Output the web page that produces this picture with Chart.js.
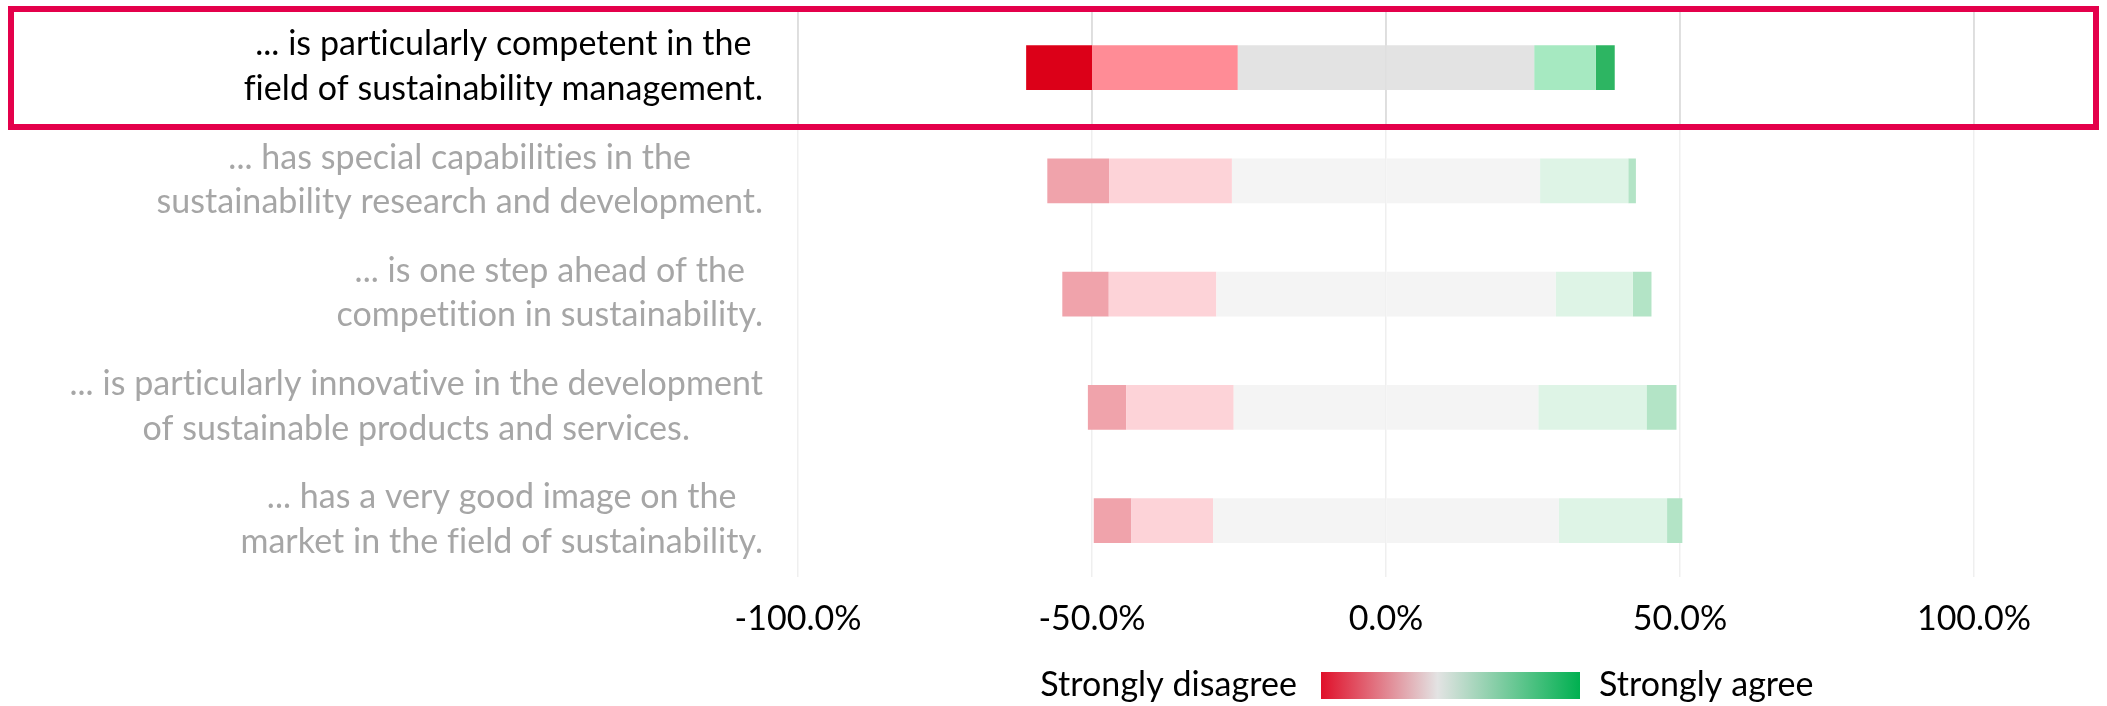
<!DOCTYPE html>
<html>
<head>
<meta charset="utf-8">
<script src="https://cdn.jsdelivr.net/npm/chart.js@4.4.0/dist/chart.umd.min.js"></script>
<style>
  body { margin: 0; background: #fff; }
  #wrap { width: 2107px; height: 706px; }
</style>
</head>
<body>
<div id="wrap"><canvas id="chart" width="2107" height="706"></canvas></div>
<script>
// Data
const statements = [
  ["... is particularly competent in the", "field of sustainability management."],
  ["... has special capabilities in the", "sustainability research and development."],
  ["... is one step ahead of the", "competition in sustainability."],
  ["... is particularly innovative in the development", "of sustainable products and services."],
  ["... has a very good image on the", "market in the field of sustainability."],
];
const stronglyDisagree = [11.2, 10.5, 7.9, 6.5, 6.4];
const disagree = [24.8, 20.9, 18.3, 18.3, 13.9];
const neutral = [50.4, 52.4, 57.7, 51.8, 58.8];
const agree = [10.5, 15.0, 13.1, 18.4, 18.4];
const stronglyAgree = [3.2, 1.3, 3.2, 5.1, 2.6];
const xTicks = [-100, -50, 0, 50, 100];
const highlighted = 0;

const FONT = "Lato, 'Noto Sans', sans-serif";
Chart.defaults.font.family = FONT;

// full colour for the highlighted row, faded for the rest
const rowColors = (full, faded) =>
  statements.map((_, i) => (i === highlighted ? full : faded));

const datasets = [
  { label: "Neutral", data: neutral.map((v) => -v / 2), backgroundColor: rowColors("#E3E3E3", "#F4F4F4") },
  { label: "Disagree", data: disagree.map((v) => -v), backgroundColor: rowColors("#FF8C96", "#FDD3D8") },
  { label: "Strongly disagree", data: stronglyDisagree.map((v) => -v), backgroundColor: rowColors("#DC0018", "#F0A3AB") },
  { label: "Neutral ", data: neutral.map((v) => v / 2), backgroundColor: rowColors("#E3E3E3", "#F4F4F4") },
  { label: "Agree", data: agree, backgroundColor: rowColors("#A6E9C1", "#DEF4E6") },
  { label: "Strongly agree", data: stronglyAgree, backgroundColor: rowColors("#2DB562", "#B3E4C6") },
];
datasets.forEach((d) => {
  d.stack = "s";
  d.borderWidth = 0;
  d.barPercentage = 0.395;
  d.categoryPercentage = 1;
});

const LABEL_SIZE = 34;
const LINE_H = 44.6;

const decor = {
  id: "decor",
  beforeDatasetsDraw(chart) {
    // darker gridlines inside the highlighted band
    const { ctx, chartArea, scales: { x } } = chart;
    ctx.save();
    ctx.strokeStyle = "#D9D9D9";
    ctx.lineWidth = 1.5;
    xTicks.forEach((t) => {
      const px = x.getPixelForValue(t);
      ctx.beginPath();
      ctx.moveTo(px, chartArea.top);
      ctx.lineTo(px, 127);
      ctx.stroke();
    });
    ctx.restore();
  },
  afterDraw(chart) {
    const { ctx, chartArea, scales: { y } } = chart;
    ctx.save();
    // statement labels: block right-aligned, lines centred within block
    ctx.font = `${LABEL_SIZE}px ${FONT}`;
    ctx.letterSpacing = "0.05px"; // no "ti" ligatures
    ctx.textAlign = "center";
    ctx.textBaseline = "middle";
    const right = chartArea.left - 35;
    statements.forEach((lines, i) => {
      const yc = y.getPixelForValue(i);
      const w = Math.max(...lines.map((l) => ctx.measureText(l).width));
      ctx.fillStyle = i === highlighted ? "#000000" : "#A6A6A6";
      lines.forEach((l, j) => {
        ctx.fillText(l, right - w / 2, yc - 1 + (j - (lines.length - 1) / 2) * LINE_H);
      });
    });

    // highlight frame
    ctx.strokeStyle = "#E4004B";
    ctx.lineWidth = 6;
    ctx.strokeRect(11, 9, 2085, 118);

    // gradient legend
    const gx = 1321, gy = 672, gw = 259, gh = 27;
    const grad = ctx.createLinearGradient(gx, 0, gx + gw, 0);
    grad.addColorStop(0, "#E0102A");
    grad.addColorStop(0.45, "#E3E3E3");
    grad.addColorStop(1, "#00B050");
    ctx.fillStyle = grad;
    ctx.fillRect(gx, gy, gw, gh);
    ctx.fillStyle = "#000000";
    ctx.textAlign = "right";
    ctx.fillText("Strongly disagree", gx - 24, gy + gh / 2);
    ctx.textAlign = "left";
    ctx.fillText("Strongly agree", gx + gw + 19, gy + gh / 2);
    ctx.restore();
  },
};

new Chart(document.getElementById("chart"), {
  type: "bar",
  data: { labels: statements.map((l) => l.join(" ")), datasets },
  options: {
    indexAxis: "y",
    responsive: false,
    animation: false,
    layout: { padding: { top: 11, right: 133, bottom: 46, left: 0 } },
    plugins: { legend: { display: false }, tooltip: { enabled: false } },
    scales: {
      x: {
        stacked: true,
        min: -100,
        max: 100,
        afterBuildTicks: (scale) => {
          scale.ticks = xTicks.map((v) => ({ value: v }));
        },
        grid: { color: "#EFEFEF", lineWidth: 1.5, drawTicks: false },
        border: { display: false },
        ticks: {
          padding: 21,
          color: "#000000",
          font: { size: LABEL_SIZE },
          callback: (v) => Number(v).toFixed(1) + "%",
        },
      },
      y: {
        stacked: true,
        grid: { display: false },
        border: { display: false },
        ticks: { display: false },
        afterFit: (scale) => {
          scale.width = 798;
        },
      },
    },
  },
  plugins: [decor],
});
</script>
</body>
</html>
